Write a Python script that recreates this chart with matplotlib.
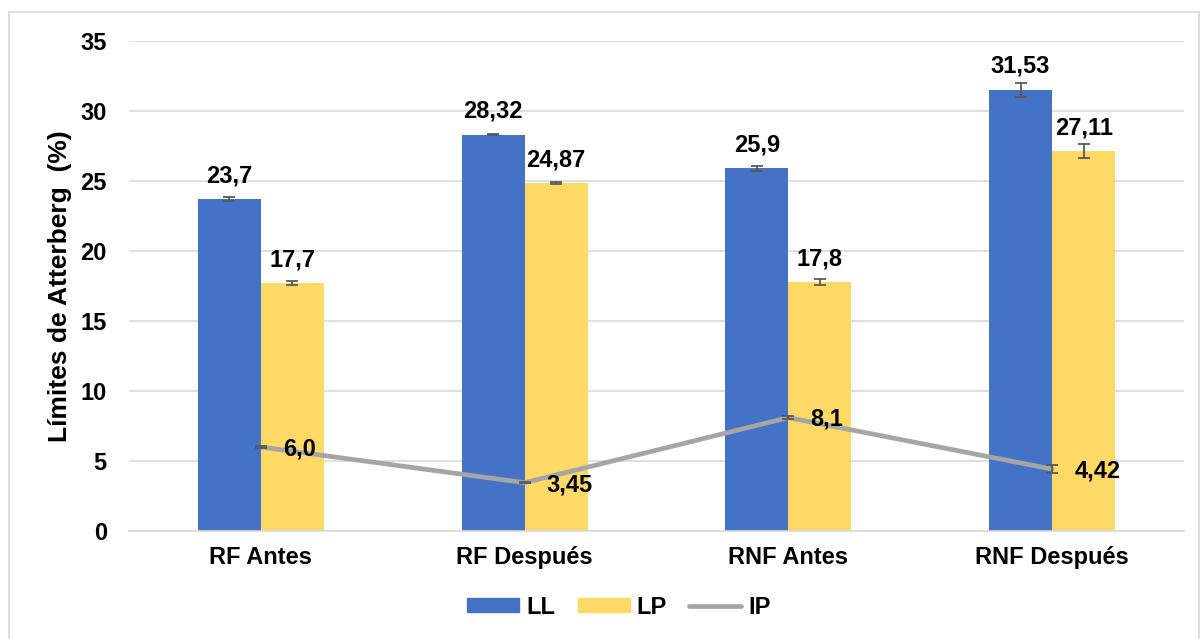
import matplotlib
matplotlib.use("Agg")
import matplotlib.pyplot as plt
import numpy as np
from matplotlib.patches import Rectangle
from matplotlib.lines import Line2D

categories = ["RF Antes", "RF Después", "RNF Antes", "RNF Después"]
ll_values = [23.7, 28.32, 25.9, 31.53]
lp_values = [17.7, 24.87, 17.8, 27.11]
ip_values = [6.0, 3.45, 8.1, 4.42]
ll_err = [0.15, 0.06, 0.2, 0.5]
lp_err = [0.15, 0.06, 0.2, 0.5]
ip_err = [0.1, 0.05, 0.1, 0.3]
ll_labels = ["23,7", "28,32", "25,9", "31,53"]
lp_labels = ["17,7", "24,87", "17,8", "27,11"]
ip_labels = ["6,0", "3,45", "8,1", "4,42"]
yticks = [0, 5, 10, 15, 20, 25, 30, 35]

plt.rcParams['font.family'] = ['Liberation Sans', 'DejaVu Sans']
plt.rcParams['font.weight'] = 'bold'

blue = "#4472C4"
yellow = "#FFD966"
gray = "#A5A5A5"
errc = "#595959"
FS = 17

fig = plt.figure(figsize=(12.02, 6.39), dpi=100)
# outer border
fig.patches.append(Rectangle((9/1202, -0.01), (1199-9)/1202, 1 - 12/639 + 0.01,
                             transform=fig.transFigure, fill=False,
                             edgecolor="#D9D9D9", linewidth=1.2))

ax = fig.add_axes([129/1202, 1 - 531/639, (1184-129)/1202, (531-41)/639])
x = np.arange(len(categories))
w = 0.239

ax.bar(x - w/2, ll_values, w, color=blue, zorder=2)
ax.bar(x + w/2, lp_values, w, color=yellow, zorder=2)
ekw = dict(fmt='none', ecolor=errc, elinewidth=1.3, capsize=4.3, capthick=1.3)
ax.errorbar(x - w/2, ll_values, yerr=ll_err, zorder=3, **ekw)
ax.errorbar(x + w/2, lp_values, yerr=lp_err, zorder=3, **ekw)
ax.plot(x, ip_values, color=gray, linewidth=3.4, zorder=4, solid_capstyle='round')
ax.errorbar(x, ip_values, yerr=ip_err, zorder=5, **ekw)

for i in range(len(categories)):
    ax.annotate(ll_labels[i], (x[i] - w/2, ll_values[i]), xytext=(0, 12),
                textcoords='offset points', ha='center', va='baseline',
                fontsize=FS, fontweight='bold', zorder=6)
    ax.annotate(lp_labels[i], (x[i] + w/2, lp_values[i]), xytext=(0, 12),
                textcoords='offset points', ha='center', va='baseline',
                fontsize=FS, fontweight='bold', zorder=6)
    ax.annotate(ip_labels[i], (x[i], ip_values[i]), xytext=(16, -6),
                textcoords='offset points', ha='left', va='baseline',
                fontsize=FS, fontweight='bold', zorder=6)

ax.set_xlim(-0.5, len(categories) - 0.5)
ax.set_ylim(0, 35)
ax.set_yticks(yticks)
ax.set_xticks(x)
ax.set_xticklabels(categories)
ax.tick_params(axis='both', length=0, labelsize=FS)
ax.tick_params(axis='y', pad=16)
ax.tick_params(axis='x', pad=11)
for lab in ax.get_xticklabels() + ax.get_yticklabels():
    lab.set_fontweight('bold')
ax.yaxis.grid(True, color="#D9D9D9", linewidth=1.2, zorder=0)
ax.set_axisbelow(True)
for s in ['top', 'right', 'left']:
    ax.spines[s].set_visible(False)
ax.spines['bottom'].set_color("#D9D9D9")
ax.spines['bottom'].set_linewidth(1.2)
ax.set_ylabel("Límites de Atterberg  (%)", fontsize=19, fontweight='bold', labelpad=6)

handles = [Rectangle((0, 0), 1, 1, color=blue),
           Rectangle((0, 0), 1, 1, color=yellow),
           Line2D([0], [0], color=gray, linewidth=3.4, solid_capstyle='round')]
fig.legend(handles, ["LL", "LP", "IP"], loc='center', bbox_to_anchor=(619/1202, 1 - 607/639),
           ncol=3, frameon=False, handlelength=2.2, handleheight=0.54,
           columnspacing=0.95, handletextpad=0.3, prop={'weight': 'bold', 'size': FS})

fig.savefig("out.png", dpi=100)
